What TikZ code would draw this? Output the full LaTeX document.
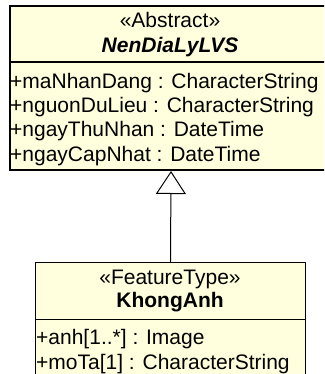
\documentclass[tikz,border=0pt]{standalone}
\usepackage{fontspec}
\setmainfont{Liberation Sans}
\usetikzlibrary{arrows.meta}
\definecolor{classfill}{RGB}{255,255,221}
\tikzset{
  classbox/.style={draw=black, fill=classfill, rectangle, inner sep=0pt, anchor=north west},
  hdr/.style={anchor=base, inner sep=0pt, font=\fontsize{21}{24}\selectfont},
  attr/.style={anchor=base west, inner sep=0pt, font=\fontsize{21}{24}\selectfont},
  gen/.style={line width=1pt, -{Triangle[open, length=23pt, width=30pt, line width=1pt]}}
}
\begin{document}
\begin{tikzpicture}[x=1pt, y=-1pt]
  \useasboundingbox (0,0) rectangle (324,374);
  \begin{scope}
    \clip (0,0) rectangle (324,374);
    % abstract base class
    \node[classbox, line width=2pt, minimum width=322pt, minimum height=164pt] (base) at (9,5) {};
    \draw[line width=1.5pt] (9,62) -- (331,62);
    \node[hdr] (baseSt) at (170,28) {«Abstract»};
    \node[hdr] (baseNm) at (170,52.5) {\textbf{\textit{NenDiaLyLVS}}};
    \node[attr] (a1) at (10,89) {+maNhanDang : CharacterString};
    \node[attr] (a2) at (10,113) {+nguonDuLieu : CharacterString};
    \node[attr] (a3) at (10,137) {+ngayThuNhan : DateTime};
    \node[attr] (a4) at (10,161.5) {+ngayCapNhat : DateTime};
    % feature type
    \node[classbox, line width=1pt, minimum width=270pt, minimum height=130pt] (feat) at (35,262) {};
    \draw[line width=1pt] (35,319) -- (305,319);
    \node[hdr] (featSt) at (170,284) {«FeatureType»};
    \node[hdr] (featNm) at (170,307.5) {\textbf{KhongAnh}};
    \node[attr] (b1) at (36,344.5) {+anh[1..*] : Image};
    \node[attr] (b2) at (36,369) {+moTa[1] : CharacterString};
  \end{scope}
  % generalization
  \draw[gen] (feat.north) -- (base.south);
\end{tikzpicture}
\end{document}
